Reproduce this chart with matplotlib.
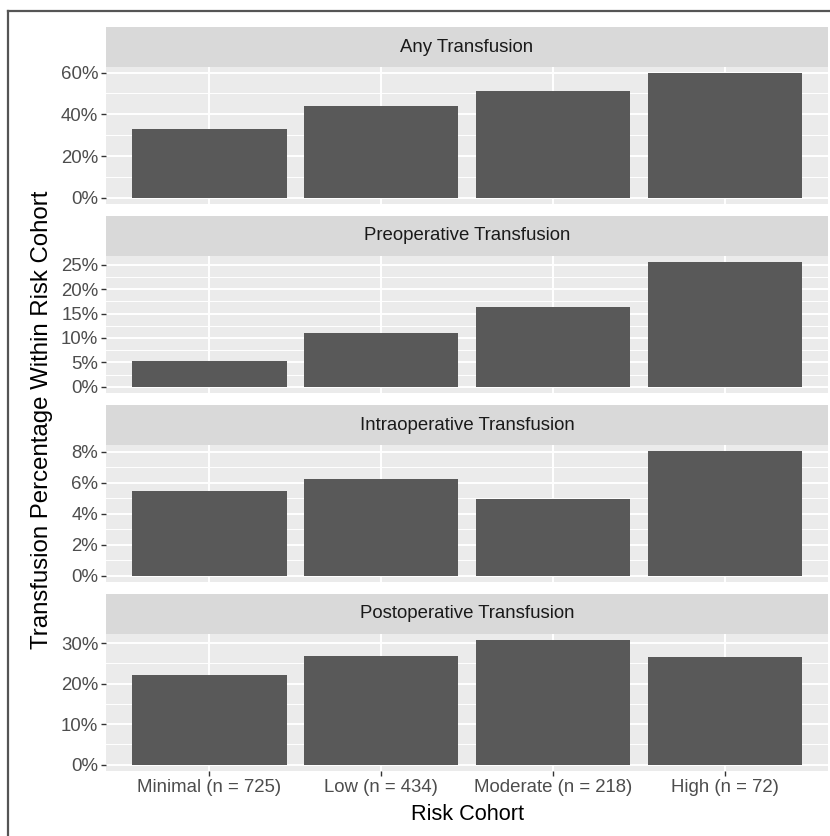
import matplotlib
matplotlib.use("Agg")
import matplotlib.pyplot as plt
from matplotlib.ticker import MultipleLocator, AutoMinorLocator, PercentFormatter
from matplotlib.lines import Line2D

plt.rcParams['font.family'] = ['Liberation Sans', 'DejaVu Sans']

# DATA
cohorts = ['Minimal (n = 725)', 'Low (n = 434)', 'Moderate (n = 218)', 'High (n = 72)']
panel_titles = ['Any Transfusion', 'Preoperative Transfusion',
                'Intraoperative Transfusion', 'Postoperative Transfusion']
any_pct = [32.9, 43.8, 51.4, 59.7]
preop_pct = [5.2, 11.0, 16.4, 25.5]
intraop_pct = [5.45, 6.22, 4.93, 8.02]
postop_pct = [22.1, 26.8, 30.7, 26.5]
major_steps = [20, 5, 2, 10]

series = [any_pct, preop_pct, intraop_pct, postop_pct]

W, H = 830, 836
fig = plt.figure(figsize=(W / 100, H / 100), dpi=100)

# pixel layout (top of strip, top of plot, bottom of plot)
left_px, right_px = 106, 828
panels_px = [(27, 67, 204), (216, 256, 393), (405, 445, 582), (594, 634, 771)]

def fy(px):
    return 1 - px / H

x = list(range(len(cohorts)))

for i, (vals, title, step) in enumerate(zip(series, panel_titles, major_steps)):
    s_top, p_top, p_bot = panels_px[i]
    ax = fig.add_axes([left_px / W, fy(p_bot), (right_px - left_px) / W, (p_bot - p_top) / H])
    ax.set_facecolor('#EBEBEB')
    ax.bar(x, vals, width=0.9, color='#595959', zorder=3)
    vmax = max(vals)
    ax.set_ylim(-0.05 * vmax, 1.05 * vmax)
    ax.set_xlim(-0.6, len(cohorts) - 0.4)
    ax.yaxis.set_major_locator(MultipleLocator(step))
    ax.yaxis.set_minor_locator(AutoMinorLocator(2))
    ax.yaxis.set_major_formatter(PercentFormatter(xmax=100, decimals=0))
    ax.set_xticks(x)
    ax.grid(which='major', color='white', linewidth=1.4, zorder=1)
    ax.grid(which='minor', axis='y', color='white', linewidth=0.7, zorder=1)
    ax.set_axisbelow(True)
    for sp in ax.spines.values():
        sp.set_visible(False)
    ax.tick_params(axis='y', which='major', length=3.5, width=1.0, color='#333333',
                   labelsize=13.4, labelcolor='#4D4D4D', pad=2)
    ax.tick_params(axis='y', which='minor', length=0)
    if i == 3:
        ax.set_xticklabels(cohorts)
        ax.tick_params(axis='x', length=3.5, width=1.0, color='#333333',
                       labelsize=13.4, labelcolor='#4D4D4D', pad=2)
    else:
        ax.tick_params(axis='x', length=0, labelbottom=False)

    # strip
    sax = fig.add_axes([left_px / W, fy(p_top), (right_px - left_px) / W, (p_top - s_top) / H])
    sax.set_facecolor('#D9D9D9')
    sax.set_xticks([])
    sax.set_yticks([])
    for sp in sax.spines.values():
        sp.set_visible(False)
    sax.text(0.5, 0.5, title, ha='center', va='center', fontsize=13.4,
             color='#1A1A1A', transform=sax.transAxes)

# axis titles
fig.text(42 / W, fy(420), 'Transfusion Percentage Within Risk Cohort',
         rotation=90, ha='center', va='center', fontsize=17.3, color='black')
fig.text((left_px + right_px) / 2 / W, fy(815), 'Risk Cohort',
         ha='center', va='center', fontsize=15.6, color='black')

# outer frame (top and left only, cropped)
fig.add_artist(Line2D([8 / W, 1], [fy(11), fy(11)], color='#555555', linewidth=1.6))
fig.add_artist(Line2D([8 / W, 8 / W], [fy(11), 0], color='#555555', linewidth=1.6))

fig.savefig('out.png', dpi=100)
